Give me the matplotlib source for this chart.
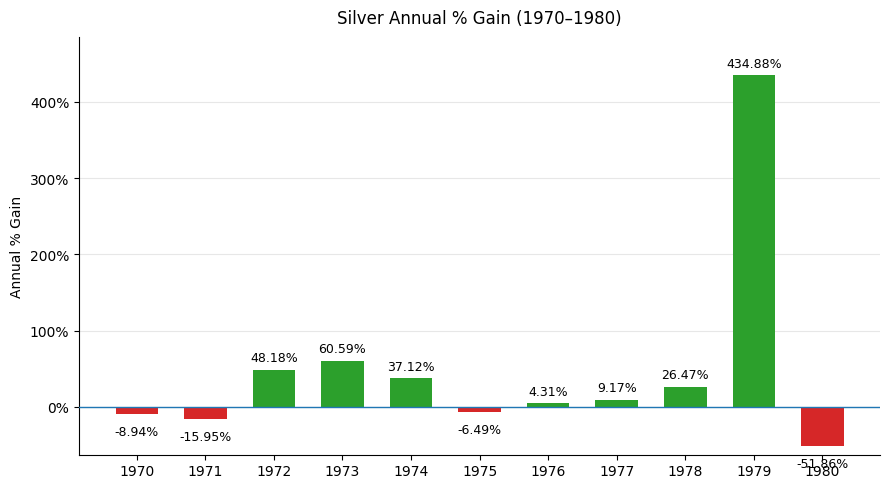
import matplotlib
matplotlib.use("Agg")
import matplotlib.pyplot as plt
import numpy as np
from matplotlib.ticker import FuncFormatter

years = ["1970", "1971", "1972", "1973", "1974", "1975", "1976", "1977", "1978", "1979", "1980"]
gains = [-8.94, -15.95, 48.18, 60.59, 37.12, -6.49, 4.31, 9.17, 26.47, 434.88, -51.86]

x = np.arange(len(years))
colors = ["#2ca02c" if g >= 0 else "#d62728" for g in gains]

fig, ax = plt.subplots(figsize=(8.89, 4.89), dpi=100)
ax.bar(x, gains, width=0.62, color=colors, zorder=3)
ax.axhline(0, color="#1f77b4", linewidth=1, zorder=4)

for xi, g in zip(x, gains):
    if g >= 0:
        ax.annotate(f"{g:.2f}%", (xi, g), xytext=(0, 4), textcoords="offset points",
                    ha="center", va="bottom", fontsize=9)
    else:
        ax.annotate(f"{g:.2f}%", (xi, g), xytext=(0, -8), textcoords="offset points",
                    ha="center", va="top", fontsize=9)

ax.set_xticks(x)
ax.set_xticklabels(years)
ax.set_ylim(-63, 485)
ax.yaxis.set_major_formatter(FuncFormatter(lambda v, p: f"{v:.0f}%"))
ax.set_ylabel("Annual % Gain")
ax.set_title("Silver Annual % Gain (1970\u20131980)", fontsize=12, pad=10)
ax.grid(axis="y", alpha=0.3, zorder=0)
ax.spines["top"].set_visible(False)
ax.spines["right"].set_visible(False)

fig.subplots_adjust(left=0.089, right=0.99, top=0.922, bottom=0.068)
fig.savefig("out.png", dpi=100)
